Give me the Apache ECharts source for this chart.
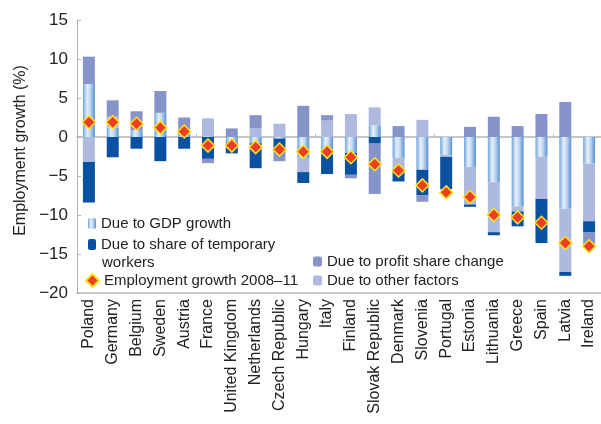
<!DOCTYPE html>
<html>
<head>
<meta charset="utf-8">
<script src="https://cdn.jsdelivr.net/npm/echarts@6/dist/echarts.min.js"></script>
<style>
  html, body { margin: 0; padding: 0; background: #fff; }
  #chart { width: 601px; height: 424px; }
</style>
</head>
<body>
<div id="chart"></div>
<script>
// 数据
const categories = ['Poland', 'Germany', 'Belgium', 'Sweden', 'Austria', 'France', 'United Kingdom', 'Netherlands',
  'Czech Republic', 'Hungary', 'Italy', 'Finland', 'Slovak Republic', 'Denmark', 'Slovenia', 'Portugal',
  'Estonia', 'Lithuania', 'Greece', 'Spain', 'Latvia', 'Ireland']
const gdpGrowth = [6.8, 1.2, 0.9, 3.1, 0.6, 0.1, -0.7, -0.8, -0.2, -2.7, -2.2, -2.05, 1.5, -2.7, -4.2, -2.3, -3.85, -5.8, -8.9, -2.55, -9.2, -3.4]
const otherFactors = [-3.2, 1.4, 0, 0, 0, 2.3, 0, 1.15, 1.7, -1.8, 2.1, 2.95, 2.3, -1.4, 2.2, -0.25, -4.8, -6.4, -0.65, -5.4, -8.1, -7.4]
const tempWorkers = [-5.2, -2.6, -1.5, -3.1, -1.5, -2.8, -1.4, -3.2, -1.6, -1.4, -2.55, -2.8, -0.85, -1.6, -3.3, -4.15, -0.3, -0.4, -1.9, -5.65, -0.5, -1.45]
const profitShare = [3.5, 2.1, 2.4, 2.8, 1.9, -0.55, 1.1, 1.65, -1.3, 4.0, 0.7, -0.45, -6.45, 1.4, -0.8, 0, 1.3, 2.6, 1.4, 2.95, 4.5, -1.55]
const employment = [1.9, 1.9, 1.7, 1.2, 0.7, -1.1, -1.1, -1.3, -1.6, -1.9, -1.9, -2.6, -3.5, -4.3, -6.2, -7.1, -7.7, -10.0, -10.3, -11.0, -13.6, -14.0]

const FONT = "'Liberation Sans Narrow', 'Arial Narrow', 'Liberation Sans', sans-serif"
const NAME_GDP = 'Due to GDP growth'
const NAME_TEMP = 'Due to share of temporary workers'
const NAME_PROFIT = 'Due to profit share change'
const NAME_OTHER = 'Due to other factors'
const NAME_EMP = 'Employment growth 2008–11'

const chart = echarts.init(document.getElementById('chart'))

const gdpColor = new echarts.graphic.LinearGradient(0, 0, 1, 0, [
  { offset: 0, color: '#6fa3da' },
  { offset: 0.35, color: '#e6effa' },
  { offset: 0.6, color: '#c4d9f1' },
  { offset: 1, color: '#5591d2' }
])

const legendText = { fontFamily: FONT, fontSize: 15, color: '#222', lineHeight: 19 }

const option = {
  animation: false,
  grid: { left: 77, right: 0, top: 20, bottom: 131 },
  // 图例分三块，第二行文字 "workers" 单独放
  legend: [
    {
      orient: 'vertical',
      left: 88,
      top: 214,
      padding: 0,
      itemWidth: 8,
      itemHeight: 11,
      itemGap: 2,
      textStyle: legendText,
      data: [NAME_GDP, NAME_TEMP],
      formatter: function (name) {
        return name === NAME_TEMP ? 'Due to share of temporary' : name
      }
    },
    {
      orient: 'vertical',
      left: 85,
      top: 271,
      padding: 0,
      itemWidth: 13,
      itemHeight: 13,
      itemGap: 2,
      textStyle: legendText,
      data: [{ name: NAME_EMP, icon: 'diamond' }]
    },
    {
      orient: 'vertical',
      left: 313,
      top: 252,
      padding: 0,
      itemWidth: 9,
      itemHeight: 10,
      itemGap: 0,
      textStyle: legendText,
      data: [NAME_PROFIT, NAME_OTHER]
    }
  ],
  graphic: [
    {
      type: 'text',
      left: 102,
      top: 255,
      style: { text: 'workers', fontFamily: FONT, fontSize: 15, fill: '#222' }
    }
  ],
  xAxis: [
    {
      type: 'category',
      data: categories,
      position: 'bottom',
      axisLine: { onZero: false, lineStyle: { color: '#c8c8c8', width: 2 } },
      axisTick: { show: false },
      axisLabel: {
        rotate: 90,
        interval: 0,
        margin: 6,
        fontFamily: FONT,
        fontSize: 16,
        color: '#222'
      }
    },
    {
      // 零线
      type: 'category',
      data: categories,
      position: 'bottom',
      axisLine: { onZero: true, lineStyle: { color: '#b4b4b4', width: 1.5 } },
      axisTick: { show: true, inside: true, length: 3, lineStyle: { color: '#b4b4b4' } },
      axisLabel: { show: false }
    }
  ],
  yAxis: {
    type: 'value',
    min: -20,
    max: 15,
    interval: 5,
    name: 'Employment growth (%)',
    nameLocation: 'middle',
    nameRotate: 90,
    nameGap: 48,
    nameTextStyle: { fontFamily: FONT, fontSize: 16, color: '#222', padding: [0, 0, 0, 12] },
    axisLine: { show: true, lineStyle: { color: '#b4b4b4' } },
    axisTick: { show: true, inside: true, length: 4, lineStyle: { color: '#b4b4b4' } },
    splitLine: { show: false },
    axisLabel: {
      fontFamily: FONT,
      fontSize: 17,
      color: '#222',
      margin: 9,
      formatter: function (v) { return v < 0 ? '\u2212' + Math.abs(v) : String(v) }
    }
  },
  series: [
    {
      name: NAME_GDP,
      type: 'bar',
      stack: 'total',
      barWidth: 12,
      data: gdpGrowth,
      itemStyle: { color: gdpColor }
    },
    {
      name: NAME_OTHER,
      type: 'bar',
      stack: 'total',
      barWidth: 12,
      data: otherFactors,
      itemStyle: { color: '#aeb9df' }
    },
    {
      name: NAME_TEMP,
      type: 'bar',
      stack: 'total',
      barWidth: 12,
      data: tempWorkers,
      itemStyle: { color: '#0b51a1' }
    },
    {
      name: NAME_PROFIT,
      type: 'bar',
      stack: 'total',
      barWidth: 12,
      data: profitShare,
      itemStyle: { color: '#8694ca' }
    },
    {
      name: NAME_EMP,
      type: 'scatter',
      symbol: 'diamond',
      symbolSize: 13,
      z: 5,
      data: employment,
      itemStyle: { color: '#ea3f24', borderColor: '#ffe21a', borderWidth: 1.5, opacity: 1 }
    }
  ]
}

chart.setOption(option)
</script>
</body>
</html>
